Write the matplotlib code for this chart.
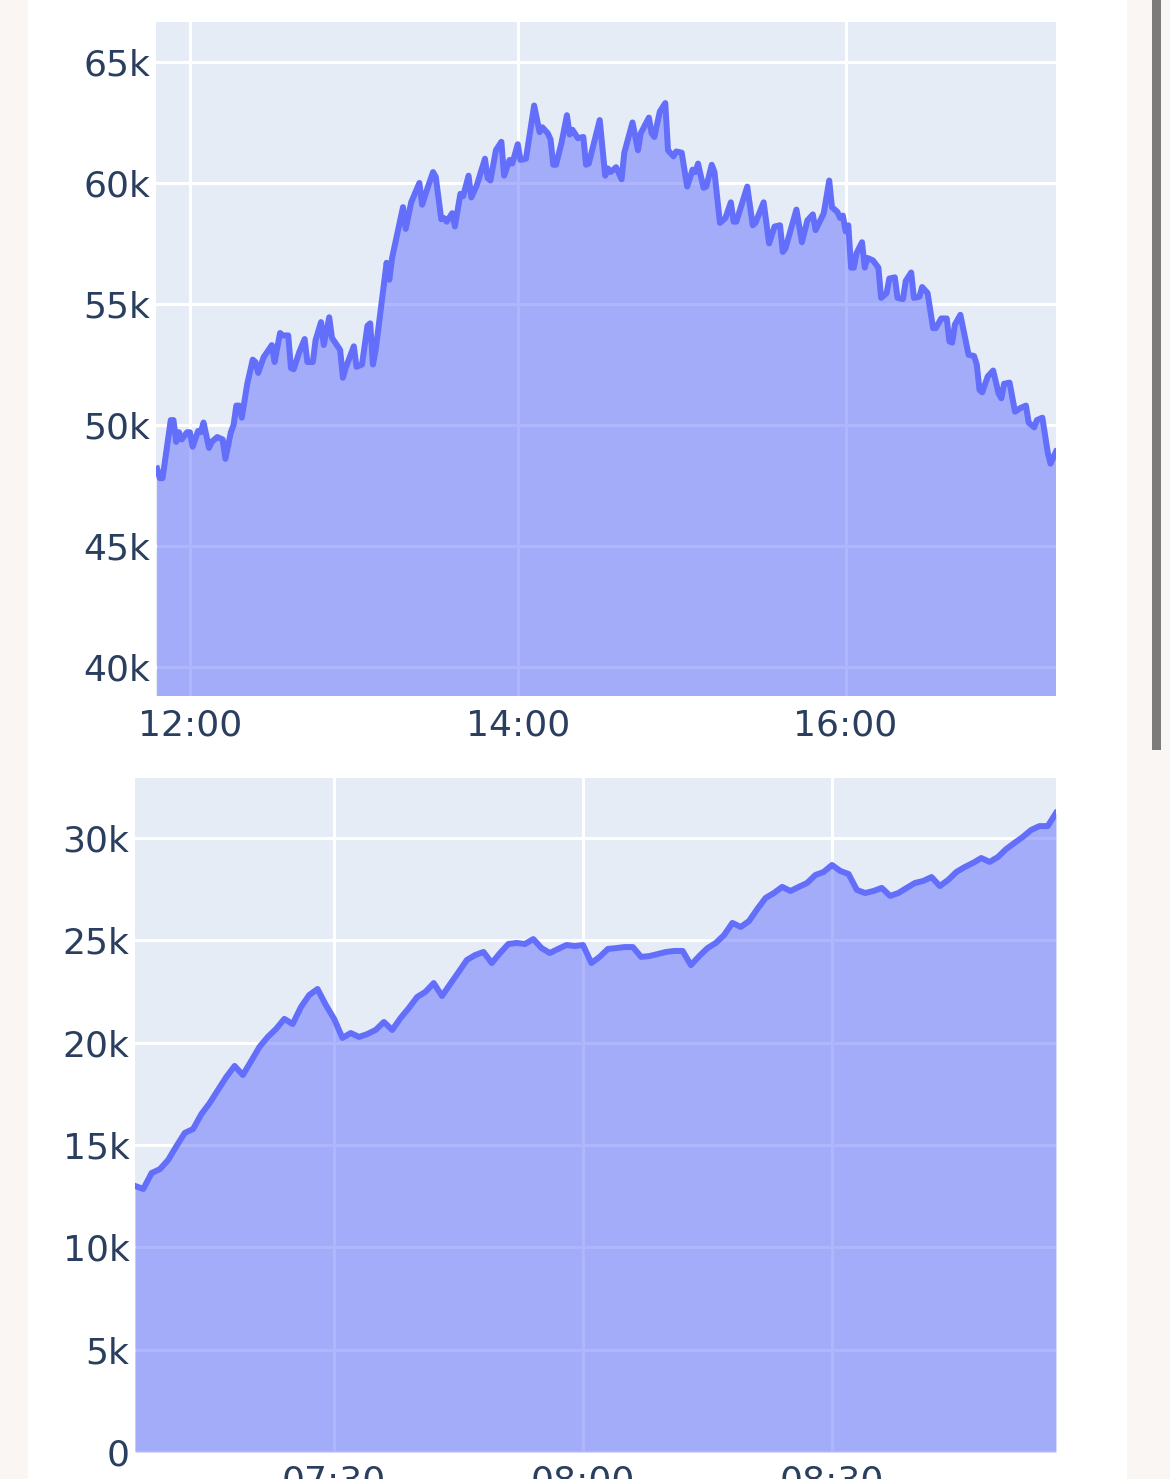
import numpy as np
import pandas as pd
import matplotlib
matplotlib.use("Agg")
import matplotlib.pyplot as plt
import matplotlib.dates as mdates
from matplotlib.ticker import FuncFormatter, MultipleLocator
from matplotlib.patches import Rectangle

# top chart: afternoon series (values in thousands)
top_times = [
    "11:48", "11:49", "11:50", "11:53", "11:54", "11:55", "11:56", "11:57", "11:59", "12:00",
    "12:01", "12:03", "12:04", "12:05", "12:07", "12:08", "12:10", "12:12", "12:13", "12:15",
    "12:16", "12:17", "12:18", "12:19", "12:21", "12:23", "12:24", "12:25", "12:27", "12:30",
    "12:31", "12:33", "12:34", "12:36", "12:37", "12:38", "12:40", "12:42", "12:43", "12:45",
    "12:46", "12:48", "12:49", "12:51", "12:52", "12:55", "12:56", "12:57", "13:00", "13:01",
    "13:03", "13:05", "13:06", "13:07", "13:08", "13:12", "13:13", "13:14", "13:18", "13:19",
    "13:21", "13:24", "13:25", "13:27", "13:29", "13:30", "13:32", "13:33", "13:34", "13:36",
    "13:37", "13:39", "13:40", "13:42", "13:43", "13:45", "13:48", "13:49", "13:50", "13:52",
    "13:54", "13:55", "13:57", "13:58", "14:00", "14:01", "14:03", "14:06", "14:08", "14:09",
    "14:11", "14:12", "14:13", "14:14", "14:16", "14:18", "14:19", "14:20", "14:22", "14:24",
    "14:25", "14:26", "14:30", "14:32", "14:33", "14:34", "14:36", "14:38", "14:39", "14:42",
    "14:44", "14:45", "14:48", "14:49", "14:50", "14:52", "14:54", "14:55", "14:57", "14:58",
    "15:00", "15:02", "15:04", "15:05", "15:06", "15:08", "15:09", "15:11", "15:12", "15:14",
    "15:16", "15:18", "15:19", "15:20", "15:24", "15:26", "15:27", "15:30", "15:32", "15:34",
    "15:36", "15:37", "15:38", "15:42", "15:44", "15:46", "15:48", "15:49", "15:52", "15:54",
    "15:55", "15:57", "15:58", "15:59", "16:00", "16:01", "16:02", "16:03", "16:04", "16:06",
    "16:07", "16:08", "16:10", "16:12", "16:13", "16:15", "16:16", "16:18", "16:19", "16:21",
    "16:22", "16:24", "16:25", "16:27", "16:28", "16:30", "16:32", "16:33", "16:35", "16:37",
    "16:38", "16:39", "16:40", "16:42", "16:44", "16:45", "16:47", "16:48", "16:49", "16:50",
    "16:52", "16:54", "16:56", "16:57", "16:58", "17:00", "17:02", "17:04", "17:06", "17:07",
    "17:09", "17:10", "17:12", "17:14", "17:15", "17:17",
]
top_vals = [
    48.2, 47.8, 47.8, 50.2, 50.2, 49.3, 49.7, 49.4, 49.7, 49.7,
    49.1, 49.75, 49.7, 50.1, 49.05, 49.3, 49.5, 49.4, 48.6, 49.7,
    50.0, 50.8, 50.8, 50.3, 51.7, 52.7, 52.6, 52.15, 52.8, 53.3,
    52.6, 53.8, 53.7, 53.7, 52.35, 52.3, 53.0, 53.55, 52.6, 52.6,
    53.5, 54.25, 53.3, 54.45, 53.6, 53.1, 51.95, 52.35, 53.25, 52.4,
    52.5, 54.1, 54.2, 52.5, 53.1, 56.7, 56.0, 56.9, 59.0, 58.1,
    59.2, 60.0, 59.1, 59.8, 60.45, 60.25, 58.5, 58.55, 58.4, 58.75,
    58.2, 59.55, 59.45, 60.3, 59.4, 59.9, 61.0, 60.2, 60.1, 61.35,
    61.7, 60.3, 60.95, 60.8, 61.6, 60.95, 61.0, 63.2, 62.1, 62.3,
    62.05, 61.8, 60.75, 60.75, 61.65, 62.8, 62.0, 62.2, 61.85, 61.9,
    60.75, 60.8, 62.6, 60.3, 60.6, 60.45, 60.65, 60.15, 61.25, 62.5,
    61.35, 62.05, 62.7, 62.05, 61.9, 62.95, 63.3, 61.35, 61.1, 61.3,
    61.25, 59.85, 60.55, 60.45, 60.8, 59.8, 59.85, 60.75, 60.45, 58.35,
    58.55, 59.2, 58.4, 58.4, 59.85, 58.25, 58.35, 59.2, 57.5, 58.2,
    58.25, 57.15, 57.3, 58.9, 57.55, 58.45, 58.7, 58.05, 58.75, 60.1,
    59.0, 58.8, 58.55, 58.65, 58.0, 58.25, 56.5, 56.5, 57.1, 57.55,
    56.5, 56.9, 56.8, 56.5, 55.25, 55.45, 56.05, 56.1, 55.25, 55.2,
    55.95, 56.3, 55.25, 55.3, 55.7, 55.45, 54.0, 54.0, 54.4, 54.4,
    53.45, 53.4, 54.15, 54.55, 53.45, 52.9, 52.85, 52.5, 51.45, 51.35,
    52.0, 52.25, 51.3, 51.1, 51.7, 51.75, 50.55, 50.7, 50.8, 50.1,
    49.9, 50.2, 50.3, 48.85, 48.4, 48.9,
]

# bottom chart: morning series, one value per minute from 07:06 to 08:57 (thousands)
bottom_start = "07:06"
bottom_end = "08:57"
bottom_vals = [
    13.0, 12.85, 13.63, 13.82, 14.27, 14.95, 15.59, 15.78, 16.51, 17.05,
    17.69, 18.32, 18.86, 18.42, 19.10, 19.79, 20.28, 20.67, 21.16, 20.91,
    21.74, 22.33, 22.62, 21.84, 21.16, 20.23, 20.47, 20.28, 20.42, 20.62,
    21.01, 20.62, 21.20, 21.69, 22.23, 22.48, 22.91, 22.28, 22.87, 23.45,
    24.04, 24.28, 24.43, 23.89, 24.38, 24.82, 24.87, 24.82, 25.06, 24.62,
    24.38, 24.58, 24.77, 24.72, 24.77, 23.89, 24.19, 24.58, 24.62, 24.67,
    24.67, 24.19, 24.23, 24.33, 24.43, 24.48, 24.48, 23.79, 24.23, 24.62,
    24.87, 25.26, 25.85, 25.65, 25.94, 26.53, 27.07, 27.31, 27.61, 27.41,
    27.61, 27.80, 28.19, 28.34, 28.68, 28.39, 28.24, 27.46, 27.31, 27.41,
    27.56, 27.17, 27.31, 27.56, 27.80, 27.90, 28.09, 27.65, 27.95, 28.34,
    28.58, 28.78, 29.02, 28.83, 29.07, 29.46, 29.76, 30.05, 30.39, 30.58,
    30.58, 31.22,
]

day = "2023-01-01 "
tx = pd.to_datetime([day + t for t in top_times])
ty = np.array(top_vals) * 1000
bx = pd.date_range(day + bottom_start, day + bottom_end, freq="1min")
by = np.array(bottom_vals) * 1000

blue = "#636EFA"
plot_bg = "#E5ECF6"
text_col = "#2A3F5F"

fig = plt.figure(figsize=(11.7, 14.79), dpi=100)
fig.patch.set_facecolor("#F9F6F4")
# white page card and scroll bar, kept behind the axes
fig.patches.append(Rectangle((28 / 1170, 0), 1099 / 1170, 1, transform=fig.transFigure,
                             facecolor="white", edgecolor="none", zorder=-5))
fig.patches.append(Rectangle((1152 / 1170, 1 - 750 / 1479), 9 / 1170, 750 / 1479,
                             transform=fig.transFigure, facecolor="#7D7A7A",
                             edgecolor="none", zorder=-5))

kfmt = FuncFormatter(lambda v, p: "0" if v == 0 else f"{v / 1000:.0f}k")


def style(ax):
    ax.set_facecolor(plot_bg)
    for s in ax.spines.values():
        s.set_visible(False)
    ax.grid(True, color="white", linewidth=2.2, zorder=0)
    ax.set_axisbelow(True)
    ax.tick_params(length=0, labelsize=26, labelcolor=text_col, pad=4)
    ax.tick_params(axis="x", pad=9)
    ax.yaxis.set_major_formatter(kfmt)
    ax.xaxis.set_major_formatter(mdates.DateFormatter("%H:%M"))


ax1 = fig.add_axes([156 / 1170, 783 / 1479, 900 / 1170, 674 / 1479])
style(ax1)
ax1.fill_between(tx, ty, 0, color=blue, alpha=0.5, linewidth=0, zorder=2)
ax1.plot(tx, ty, color=blue, linewidth=4.3, zorder=3)
ax1.set_xlim(tx[0] - pd.Timedelta(seconds=24), tx[-1])
ax1.set_ylim(38800, 66650)
ax1.yaxis.set_major_locator(MultipleLocator(5000))
ax1.xaxis.set_major_locator(mdates.HourLocator(byhour=[12, 14, 16]))

ax2 = fig.add_axes([135 / 1170, 27 / 1479, 921 / 1170, 674 / 1479])
style(ax2)
ax2.fill_between(bx, by, 0, color=blue, alpha=0.5, linewidth=0, zorder=2)
ax2.plot(bx, by, color=blue, linewidth=4.3, zorder=3)
ax2.set_xlim(bx[0], bx[-1])
ax2.set_ylim(0, 32930)
ax2.yaxis.set_major_locator(MultipleLocator(5000))
ax2.xaxis.set_major_locator(mdates.MinuteLocator(byminute=[0, 30]))

fig.savefig("out.png", dpi=100, facecolor=fig.get_facecolor())
